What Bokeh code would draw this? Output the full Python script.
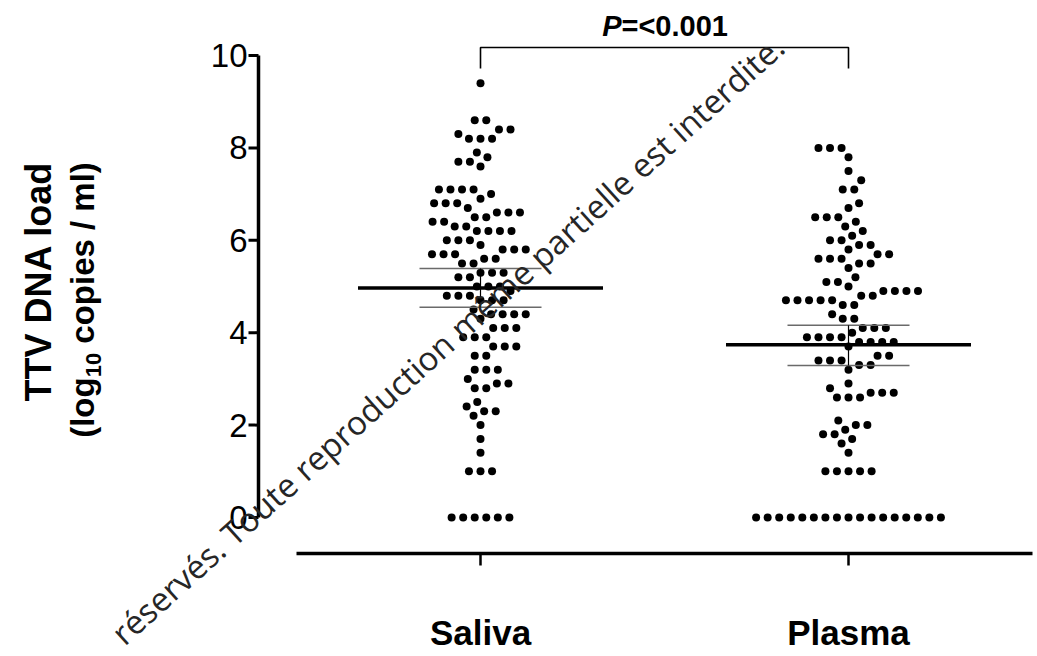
import math
from bokeh.plotting import figure
from bokeh.core.properties import value
from bokeh.embed import file_html
from bokeh.resources import INLINE

# ---------------------------------------------------------------- data
categories = ["Saliva", "Plasma"]
category_pos = [1, 2]

saliva_load = [
    9.4,
    8.6, 8.6, 8.4, 8.4, 8.3, 8.2, 8.2, 8.2,
    7.9, 7.8, 7.7, 7.7, 7.6,
    7.1, 7.1, 7.1, 7.1, 7.0, 6.9, 6.8, 6.8, 6.8, 6.7,
    6.6, 6.6, 6.6, 6.5, 6.5, 6.4, 6.4, 6.3, 6.3,
    6.2, 6.2, 6.2, 6.2, 6.0, 6.0, 6.0, 5.9,
    5.8, 5.8, 5.8, 5.7, 5.7, 5.7, 5.6, 5.6, 5.5, 5.5,
    5.3, 5.3, 5.3, 5.2, 5.2, 5.0, 5.0, 5.0, 4.9,
    4.8, 4.8, 4.8, 4.7, 4.7, 4.7, 4.5,
    4.4, 4.4, 4.4, 4.4, 4.3, 4.1, 4.1, 4.1,
    3.9, 3.9, 3.9, 3.7, 3.7, 3.7, 3.5, 3.5,
    3.2, 3.2, 3.2, 3.0, 2.9, 2.9, 2.8, 2.8,
    2.5, 2.4, 2.3, 2.3, 2.2, 2.0, 1.7, 1.4,
    1.0, 1.0, 1.0,
    0.0, 0.0, 0.0, 0.0, 0.0, 0.0,
]

plasma_load = [
    8.0, 8.0, 8.0, 7.8, 7.5, 7.3, 7.1, 7.1,
    6.8, 6.7, 6.5, 6.5, 6.5, 6.4, 6.3, 6.2, 6.1, 6.0, 6.0,
    5.9, 5.9, 5.8, 5.7, 5.7, 5.6, 5.6, 5.6, 5.5, 5.5, 5.4,
    5.2, 5.1, 5.1, 5.0,
    4.9, 4.9, 4.9, 4.9, 4.8, 4.8, 4.7, 4.7, 4.7, 4.7, 4.7,
    4.6, 4.6, 4.4, 4.3, 4.3, 4.1, 4.1, 4.1, 4.0,
    3.9, 3.9, 3.9, 3.9, 3.8, 3.8, 3.8, 3.8, 3.7,
    3.5, 3.5, 3.4, 3.4, 3.4, 3.3, 3.3, 3.2,
    2.9, 2.8, 2.7, 2.7, 2.7, 2.6, 2.6, 2.6,
    2.1, 2.0, 2.0, 1.9, 1.8, 1.8, 1.7, 1.6, 1.4,
    1.0, 1.0, 1.0, 1.0, 1.0,
    0.0, 0.0, 0.0, 0.0, 0.0, 0.0, 0.0, 0.0, 0.0,
    0.0, 0.0, 0.0, 0.0, 0.0, 0.0, 0.0, 0.0,
]

group_mean = [4.97, 3.74]
group_lower = [4.55, 3.29]
group_upper = [5.39, 4.16]

y_ticks = [0, 2, 4, 6, 8, 10]
y_bounds = [0, 10]
x_bounds = [0.5, 2.5]
p_value_text = "=<0.001"
notice = "réservés. Toute reproduction même partielle est interdite."

# ---------------------------------------------------------------- geometry
W, H = 1037, 656
PX_X = 368.0      # pixels per category step
PX_Y = 46.2       # pixels per log10 unit
ZERO_PY = 517     # screen row of y = 0
CAT1_PX = 480     # screen column of the first category


def sx(px):
    return 1 + (px - CAT1_PX) / PX_X


def sy(py):
    return (ZERO_PY - py) / PX_Y


def dx(px):
    return px / PX_X


def dy(px):
    return px / PX_Y


def swarm(values, d=11.55):
    """Beeswarm offsets in pixels: equal values form a centred row and each
    row is slid sideways just far enough to clear the dots already placed."""
    groups = []
    for v in sorted(values):
        if groups and groups[-1][0] == v:
            groups[-1][1] += 1
        else:
            groups.append([v, 1])
    placed = []
    out_x, out_y = [], []
    for gi, (v, n) in enumerate(groups):
        ypx = v * PX_Y
        base = [(k - (n - 1) / 2) * d for k in range(n)]
        near = [(yy, xx) for yy, xx in placed if abs(yy - ypx) < d]
        cands = {0.0}
        for yy, xx in near:
            h = math.sqrt(max(d * d - (yy - ypx) ** 2, 0.0))
            for b in base:
                cands.add(xx + h - b)
                cands.add(xx - h - b)
        sign = 1 if gi % 2 else -1
        shift = 0.0
        for s in sorted(cands, key=lambda c: (round(abs(c), 6), sign * c)):
            if all((b + s - xx) ** 2 + (ypx - yy) ** 2 >= d * d - 1e-6
                   for b in base for yy, xx in near):
                shift = s
                break
        for b in base:
            placed.append((ypx, b + shift))
            out_x.append(b + shift)
            out_y.append(v)
    return out_x, out_y


# ---------------------------------------------------------------- figure
p = figure(width=W, height=H, x_range=(sx(0), sx(W)), y_range=(sy(H), sy(0)),
           output_backend="svg", toolbar_location=None,
           min_border=0, min_border_left=0, min_border_right=0,
           min_border_top=0, min_border_bottom=0)
p.xaxis.visible = False
p.yaxis.visible = False
p.outline_line_color = None
p.grid.visible = False
p.background_fill_color = "white"
p.border_fill_color = "white"

FONT = value("Liberation Sans")

# y axis: spine, outward ticks, labels
axis_x = sx(258)
p.segment(x0=[axis_x], x1=[axis_x], y0=[y_bounds[0]], y1=[y_bounds[1]],
          line_color="black", line_width=3.5)
p.segment(x0=[axis_x - dx(10)] * len(y_ticks), x1=[axis_x] * len(y_ticks),
          y0=y_ticks, y1=y_ticks, line_color="black", line_width=3)
p.text(x=[axis_x - dx(11)] * len(y_ticks), y=y_ticks, text=[str(t) for t in y_ticks],
       text_align="right", text_baseline="middle", text_font=FONT,
       text_font_size="33px", text_color="black")

# x axis: spine, downward ticks, category names
axis_y = sy(553)
p.segment(x0=[x_bounds[0]], x1=[x_bounds[1]], y0=[axis_y], y1=[axis_y],
          line_color="black", line_width=3.5)
p.segment(x0=category_pos, x1=category_pos, y0=[axis_y] * 2, y1=[axis_y - dy(12)] * 2,
          line_color="black", line_width=2.5)
p.text(x=category_pos, y=[axis_y - dy(79)] * 2, text=categories,
       text_align="center", text_baseline="middle", text_font=FONT,
       text_font_style="bold", text_font_size="35px", text_color="black")

# dots
for pos, load in zip(category_pos, [saliva_load, plasma_load]):
    offs, ys = swarm(load)
    p.scatter([pos + dx(o) for o in offs], ys, size=8, color="black", line_color=None)

# mean line with error bars
MEAN_HALF = dx(122.5)
CAP_HALF = dx(61)
for pos, m, lo, hi in zip(category_pos, group_mean, group_lower, group_upper):
    p.segment(x0=[pos - CAP_HALF] * 2, x1=[pos + CAP_HALF] * 2, y0=[lo, hi], y1=[lo, hi],
              line_color="#6a6a6a", line_width=1.6)
    p.segment(x0=[pos], x1=[pos], y0=[lo], y1=[hi], line_color="black", line_width=1.2)
    p.segment(x0=[pos - MEAN_HALF], x1=[pos + MEAN_HALF], y0=[m], y1=[m],
              line_color="black", line_width=3.5)

# significance bracket
b_top = sy(47)
b_leg = sy(68)
p.line([category_pos[0], category_pos[0], category_pos[1], category_pos[1]],
       [b_leg, b_top, b_top, b_leg], line_color="black", line_width=1.6)

mid = (category_pos[0] + category_pos[1]) / 2
p_mid = b_top + dy(22)
p.text(x=[mid - dx(43)], y=[p_mid], text=["P"], text_align="right",
       text_baseline="middle", text_font=FONT, text_font_style="bold italic",
       text_font_size="29px", text_color="black")
p.text(x=[mid - dx(43)], y=[p_mid], text=[p_value_text], text_align="left",
       text_baseline="middle", text_font=FONT, text_font_style="bold",
       text_font_size="29px", text_color="black")

# y axis title: two rotated lines, the second with a subscript
up = math.pi / 2
p.text(x=[sx(38)], y=[sy(281)], text=["TTV DNA load"], angle=up,
       text_align="center", text_baseline="middle", text_font=FONT,
       text_font_style="bold", text_font_size="36px", text_color="black")
F2, FSUB = 33, 22
total2 = 1.833 * F2 + 1.112 * FSUB + 6.778 * F2
start_py = 283 + total2 / 2
sub_py = start_py - 1.833 * F2
rest_py = sub_py - 1.112 * FSUB
p.text(x=[sx(82)], y=[sy(start_py)], text=["(log"], angle=up,
       text_align="left", text_baseline="middle", text_font=FONT,
       text_font_style="bold", text_font_size=f"{F2}px", text_color="black")
p.text(x=[sx(93)], y=[sy(sub_py)], text=["10"], angle=up,
       text_align="left", text_baseline="middle", text_font=FONT,
       text_font_style="bold", text_font_size=f"{FSUB}px", text_color="black")
p.text(x=[sx(82)], y=[sy(rest_py)], text=["\u00a0copies / ml)"], angle=up,
       text_align="left", text_baseline="middle", text_font=FONT,
       text_font_style="bold", text_font_size=f"{F2}px", text_color="black")

# copyright notice running diagonally across the chart
p.text(x=[sx(447)], y=[sy(339)], text=[notice], angle=math.radians(42),
       text_align="center", text_baseline="middle", text_font=value("Open Sans"),
       text_font_size="33px", text_color="#262626")

open("out.html", "w").write(file_html(p, INLINE))
